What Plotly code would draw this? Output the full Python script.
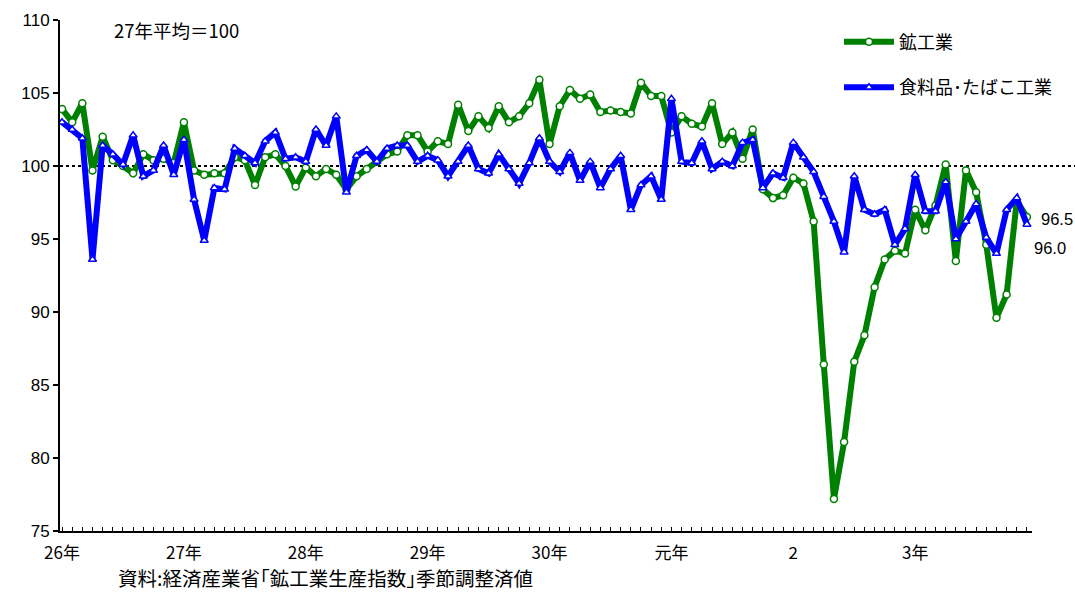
import plotly.graph_objects as go

# Monthly index, 26年1月 .. 3年12月 (27年平均=100, seasonally adjusted)
months = list(range(96))
year_tick_pos = [0, 12, 24, 36, 48, 60, 72, 84]
year_labels = ["26年", "27年", "28年", "29年", "30年", "元年", "2", "3年"]

mining_name = "鉱工業"
mining = [103.9, 103.0, 104.3, 99.7, 102.0, 100.4, 100.0, 99.5, 100.8, 100.4, 100.5, 100.2,
          103.0, 99.7, 99.4, 99.5, 99.5, 100.6, 100.4, 98.7, 100.6, 100.8, 100.0, 98.6,
          99.9, 99.3, 99.8, 99.4, 98.4, 99.3, 99.8, 100.3, 100.8, 101.0, 102.1, 102.1,
          101.0, 101.7, 101.5, 104.2, 102.4, 103.4, 102.6, 104.1, 103.0, 103.4, 104.3, 105.9,
          101.5, 104.1, 105.2, 104.6, 104.9, 103.7, 103.8, 103.7, 103.6, 105.7, 104.8, 104.8,
          102.3, 103.4, 102.9, 102.7, 104.3, 101.5, 102.3, 100.5, 102.5, 98.4, 97.8, 98.0,
          99.2, 98.8, 96.2, 86.4, 77.2, 81.1, 86.6, 88.4, 91.7, 93.6, 94.2, 94.0,
          97.0, 95.6, 97.3, 100.1, 93.5, 99.7, 98.2, 94.6, 89.6, 91.2, 97.6, 96.5]

food_name = "食料品･たばこ工業"
food = [103.0, 102.5, 101.9, 93.6, 101.4, 100.8, 100.1, 102.1, 99.3, 99.7, 101.4, 99.4,
        101.8, 97.7, 94.9, 98.5, 98.4, 101.2, 100.7, 100.2, 101.7, 102.3, 100.5, 100.6,
        100.3, 102.5, 101.4, 103.4, 98.2, 100.7, 101.1, 100.3, 101.2, 101.4, 101.4, 100.3,
        100.7, 100.4, 99.3, 100.3, 101.4, 99.8, 99.5, 100.8, 99.8, 98.8, 100.2, 101.9,
        100.3, 99.6, 100.9, 99.0, 100.3, 98.5, 99.8, 100.7, 97.0, 98.7, 99.3, 97.7,
        104.6, 100.3, 100.2, 101.7, 99.8, 100.3, 100.0, 101.6, 101.8, 98.5, 99.5, 99.2,
        101.6, 100.6, 99.6, 97.9, 96.2, 94.1, 99.3, 97.0, 96.7, 97.0, 94.6, 95.7,
        99.4, 96.9, 96.9, 98.9, 95.0, 96.2, 97.4, 95.1, 94.0, 97.0, 97.8, 96.0]

base_text = "27年平均＝100"
source_text = "資料:経済産業省｢鉱工業生産指数｣季節調整済値"

JP = "Noto Sans CJK JP"
NUM = "Liberation Sans, Arial"
GREEN = "#008000"
BLUE = "#0000FF"

W, H = 1075, 592
L, T, R, B = 60, 20, 43, 61
PW, PH = W - L - R, H - T - B

fig = go.Figure()
fig.add_trace(go.Scatter(
    x=months, y=mining, name=mining_name, mode="lines+markers",
    line=dict(color=GREEN, width=6),
    marker=dict(symbol="circle", size=7, color="white", line=dict(color=GREEN, width=1.5)),
    legendgroup="a",
))
fig.add_trace(go.Scatter(
    x=months, y=food, name=food_name, mode="lines+markers",
    line=dict(color=BLUE, width=6),
    marker=dict(symbol="triangle-up", size=7, color="white", line=dict(color=BLUE, width=1.5)),
    legendgroup="b",
))

ticktext = [""] * len(months)
for p, lab in zip(year_tick_pos, year_labels):
    ticktext[p] = lab

fig.update_layout(
    width=W, height=H,
    margin=dict(l=L, r=R, t=T, b=B, autoexpand=False),
    paper_bgcolor="white", plot_bgcolor="white",
    font=dict(family=JP, size=15, color="black"),
    showlegend=True,
    legend=dict(x=(839 - L) / PW, y=0.993, xanchor="left", yanchor="top",
                font=dict(family=JP, size=18, color="black"),
                tracegroupgap=19, bgcolor="rgba(0,0,0,0)", itemwidth=50),
    xaxis=dict(range=[-0.2, 95.5], tickmode="array", tickvals=months, ticktext=ticktext,
               ticks="inside", ticklen=4, tickwidth=1, tickcolor="black",
               showline=True, linecolor="black", linewidth=2, showgrid=False, zeroline=False,
               tickfont=dict(family=JP, size=17, color="black"), ticklabelstandoff=6),
    yaxis=dict(range=[75, 110], tickmode="linear", tick0=75, dtick=5,
               ticks="outside", ticklen=5, tickwidth=2, tickcolor="black",
               showline=True, linecolor="black", linewidth=2, showgrid=False, zeroline=False,
               tickfont=dict(family=NUM, size=17, color="black")),
)

# 100 reference dotted line, running to the right edge
fig.add_shape(type="line", xref="paper", yref="y", x0=0, x1=(W - L) / PW, y0=100, y1=100,
              line=dict(color="black", width=2, dash="dot"), layer="below")

fig.add_annotation(xref="paper", yref="paper", x=(112 - L) / PW, y=1 - (30 - T) / PH,
                   xanchor="left", yanchor="middle",
                   text=base_text, showarrow=False, font=dict(family=JP, size=18.5, color="black"))

fig.add_annotation(xref="x", yref="y", x=months[-1], y=mining[-1], xshift=12, yshift=-2,
                   xanchor="left", yanchor="middle", text=f"{mining[-1]:.1f}", showarrow=False,
                   font=dict(family=NUM, size=16.5, color="black"))
fig.add_annotation(xref="x", yref="y", x=months[-1], y=food[-1], xshift=5, yshift=-24,
                   xanchor="left", yanchor="middle", text=f"{food[-1]:.1f}", showarrow=False,
                   font=dict(family=NUM, size=16.5, color="black"))

fig.add_annotation(xref="paper", yref="paper", x=(325 - L) / PW, y=-(577 - 531) / PH,
                   xanchor="center", yanchor="middle", text=source_text, showarrow=False,
                   font=dict(family=JP, size=19.5, color="black"))

fig.write_html("out.html", config={"displayModeBar": False},
               post_script="document.body.style.margin='0px';document.body.style.overflow='hidden';")
